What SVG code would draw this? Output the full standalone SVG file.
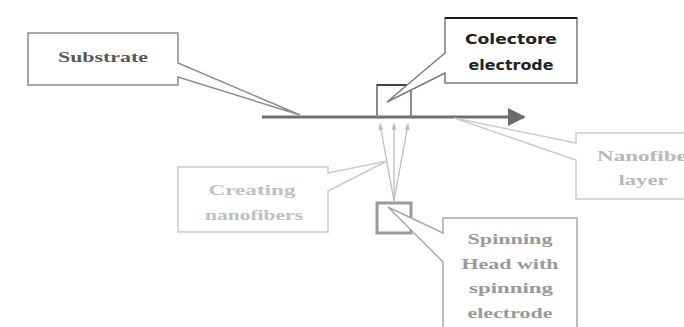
<svg xmlns="http://www.w3.org/2000/svg" width="684" height="327" viewBox="0 0 684 327">
  <defs>
    <marker id="main-head" viewBox="0 0 10 10" refX="9" refY="5" markerWidth="6" markerHeight="6" markerUnits="strokeWidth" orient="auto">
      <path d="M0,0 L10,5 L0,10 Z" fill="#6a6a6a"/>
    </marker>
    <marker id="fiber-head" viewBox="0 0 10 10" refX="9" refY="5" markerWidth="5" markerHeight="5" orient="auto">
      <path d="M0,1 L10,5 L0,9 Z" fill="#bdbdbd"/>
    </marker>
  </defs>
  <style>
    .lbl { font-family: "Liberation Serif", "Times New Roman", serif; font-weight: bold; font-size: 15px; text-anchor: middle; }
    .sans { font-family: "DejaVu Sans", "Liberation Sans", sans-serif; font-weight: bold; font-size: 14px; text-anchor: middle; }
    .callout { fill: #ffffff; stroke-width: 1.5; stroke-linejoin: miter; }
  </style>
  <rect width="684" height="327" fill="#ffffff"/>

  <!-- substrate conveyor line -->
  <g id="connectors">
    <line x1="262" y1="117" x2="524" y2="117" stroke="#6e6e6e" stroke-width="3" marker-end="url(#main-head)"/>
    <line x1="394" y1="201" x2="380" y2="124" stroke="#bdbdbd" stroke-width="1.3" marker-end="url(#fiber-head)"/>
    <line x1="394" y1="201" x2="394" y2="124" stroke="#bdbdbd" stroke-width="1.3" marker-end="url(#fiber-head)"/>
    <line x1="394" y1="201" x2="408" y2="124" stroke="#bdbdbd" stroke-width="1.3" marker-end="url(#fiber-head)"/>
  </g>

  <!-- collector electrode square -->
  <g id="collector">
    <path d="M377,117 V85 H411 V117" fill="none" stroke="#8a8a8a" stroke-width="2"/>
    <line x1="377" y1="85" x2="411" y2="85" stroke="#444444" stroke-width="2"/>
  </g>

  <!-- spinning head square -->
  <g id="spinning-head">
    <rect x="377" y="203" width="34" height="30" fill="#ffffff" stroke="#9a9a9a" stroke-width="3"/>
  </g>

  <g id="substrate">
    <path class="callout" stroke="#8c8c8c" d="M28,33 H178 V63 L300,115 L178,77 V85 H28 Z"/>
    <text class="lbl" x="103" y="62" fill="#5a5a5a" textLength="90" lengthAdjust="spacingAndGlyphs">Substrate</text>
  </g>

  <g id="collector-label">
    <path class="callout" stroke="#7a7a7a" d="M445,18 H577 V83 H445 V73 L387,102 L445,53 Z"/>
    <line x1="445" y1="18" x2="577" y2="18" stroke="#1a1a1a" stroke-width="2"/>
    <text class="sans" x="511" y="44" fill="#222222" textLength="92" lengthAdjust="spacingAndGlyphs">Colectore</text>
    <text class="sans" x="511" y="70" fill="#222222" textLength="85" lengthAdjust="spacingAndGlyphs">electrode</text>
  </g>

  <g id="nanofiber-layer">
    <path class="callout" stroke="#cccccc" d="M576,133 H700 V199 H576 V160 L454,118 L576,143 Z"/>
    <text class="lbl" x="597" y="161" fill="#b8b8b8" text-anchor="start" textLength="100" lengthAdjust="spacingAndGlyphs" style="text-anchor:start">Nanofiber</text>
    <text class="lbl" x="643" y="185" fill="#b8b8b8" textLength="49" lengthAdjust="spacingAndGlyphs">layer</text>
  </g>

  <g id="creating-nanofibers">
    <path class="callout" stroke="#cccccc" d="M178,167 H328 V173 L387,161 L328,191 V232 H178 Z"/>
    <text class="lbl" x="252" y="195" fill="#c0c0c0" textLength="87" lengthAdjust="spacingAndGlyphs">Creating</text>
    <text class="lbl" x="254" y="220" fill="#c0c0c0" textLength="98" lengthAdjust="spacingAndGlyphs">nanofibers</text>
  </g>

  <g id="spinning-label">
    <path class="callout" stroke="#a8a8a8" d="M443,218 H577 V340 H443 V262 L388,207 L443,233 Z"/>
    <text class="lbl" x="510" y="244" fill="#9a9a9a" textLength="85" lengthAdjust="spacingAndGlyphs">Spinning</text>
    <text class="lbl" x="510" y="269" fill="#9a9a9a" textLength="97" lengthAdjust="spacingAndGlyphs">Head with</text>
    <text class="lbl" x="511" y="293" fill="#9a9a9a" textLength="84" lengthAdjust="spacingAndGlyphs">spinning</text>
    <text class="lbl" x="510" y="318" fill="#9a9a9a" textLength="85" lengthAdjust="spacingAndGlyphs">electrode</text>
  </g>
</svg>
